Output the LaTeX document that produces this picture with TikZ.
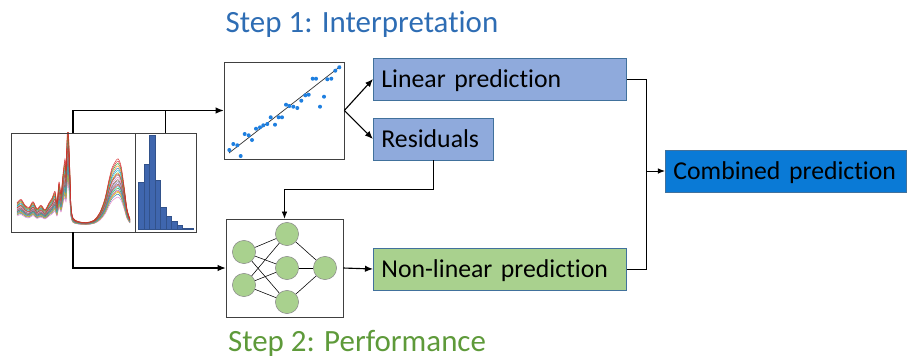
\documentclass[tikz,border=0pt]{standalone}
\usepackage{fontspec}
\setmainfont{Carlito}[Ligatures={NoCommon}]
\usetikzlibrary{arrows.meta}
\definecolor{stepblue}{HTML}{2E6DB4}
\definecolor{stepgreen}{HTML}{5E9A3A}
\definecolor{linfill}{HTML}{8FAADC}
\definecolor{nlfill}{HTML}{A9D18E}
\definecolor{combfill}{HTML}{0A7AD6}
\definecolor{boxline}{HTML}{41719C}
\definecolor{dotblue}{HTML}{1E7FE0}
\definecolor{barblue}{HTML}{3F66AE}
\definecolor{tabA}{HTML}{1F77B4}
\definecolor{tabB}{HTML}{FF7F0E}
\definecolor{tabC}{HTML}{2CA02C}
\definecolor{tabD}{HTML}{D62728}
\definecolor{tabE}{HTML}{9467BD}
\definecolor{tabF}{HTML}{8C564B}
\definecolor{tabG}{HTML}{E377C2}
\definecolor{tabH}{HTML}{7F7F7F}
\definecolor{tabI}{HTML}{BCBD22}
\definecolor{tabJ}{HTML}{17BECF}
\begin{document}
\begin{tikzpicture}[x=0.025cm,y=-0.025cm,
  inset/.style={draw=black!75,fill=white,inner sep=0pt},
  predbox/.style={draw=boxline,line width=0.6pt,inner xsep=0.2cm,inner ysep=0pt,align=left,
    font=\fontsize{18.3}{22}\selectfont,minimum height=1.05cm,text height=11.8pt,text depth=0pt},
  steptitle/.style={font=\fontsize{22}{26}\selectfont,anchor=base},
  neuron/.style={circle,draw=black!45,fill=nlfill,minimum size=0.58cm,inner sep=0pt},
  feed/.style={thick,-{Latex[length=2mm,width=1.6mm]}},
  link/.style={semithick,-{Latex[length=1.8mm,width=1.4mm]}}]
\useasboundingbox (0,0) rectangle (909,358);

% titles
\node[steptitle,text=stepblue] (title1) at (362,32) {Step 1: Interpretation};
\node[steptitle,text=stepgreen] (title2) at (357,351) {Step 2: Performance};

% input data: spectra and histogram
\node[inset,minimum width=3.1cm,minimum height=2.475cm] (spec) at (73,182.5) {};
\node[inset,minimum width=1.525cm,minimum height=2.475cm] (hist) at (165.5,182.5) {};
\begin{scope}
  \clip (spec.south west) rectangle (spec.north east);
  \begin{scope}[shift={(0,226)}]
    \foreach \s/\c in {0.55/tabA,0.6/tabB,0.65/tabC,0.7/tabD,0.75/tabE,0.8/tabF,0.84/tabG,
      0.88/tabH,0.92/tabI,0.96/tabJ,1.0/tabA,1.04/tabB,1.08/tabC,1.12/tabD,0.62/tabE,0.72/tabF,
      0.5/tabG,0.58/tabI,0.68/tabJ,0.78/tabH,0.9/tabD,1.16/tabD}
      \draw[\c,line width=0.3pt,yscale=\s] plot[smooth,tension=0.5] coordinates {
        (17,-20) (21,-23) (25,-18) (29,-16) (33,-21) (37,-15) (41,-18) (45,-14) (49,-20)
        (52,-24) (55,-30) (57,-20) (59,-38) (61,-28) (63,-45) (65,-58) (66,-48) (67,-75)
        (68,-88) (69,-70) (70,-45) (71,-18) (73,-7) (78,-4) (86,-3) (94,-5) (100,-12)
        (105,-24) (109,-40) (112,-50) (115,-55) (118,-58) (121,-52) (124,-35) (127,-15) (130,-6)};
  \end{scope}
\end{scope}
\foreach \xa/\xb/\top in {138/144/182,144/149/164,149/155/135,155/160/180,160/166/207,
  166/171/216,171/177/221,177/182/225,182/193/228}
  \draw[barblue!80!black,fill=barblue,line width=0.3pt] (\xa,229) rectangle (\xb,\top);
\node[inset,fill=none,minimum width=3.1cm,minimum height=2.475cm] at (spec) {};
\node[inset,fill=none,minimum width=1.525cm,minimum height=2.475cm] at (hist) {};

% linear model inset
\node[inset,minimum width=3cm,minimum height=2.425cm] (scatter) at (284,110.5) {};
\draw[black!80,line width=0.5pt] (229,153) -- (340.7,66);
\foreach \p in {(229.3,150),(233.3,144),(237.3,145.3),(240.7,156),(244.7,134),(248.7,135.3),
  (252,140),(256,128.7),(260,127.3),(263.3,125.3),(267.3,124),(270.7,117.3),(275,124.7),
  (278.7,117.3),(282,117.3),(286,104.7),(289.3,106),(293.3,106.7),(297.3,108),(301.3,100.7),
  (305.3,95.3),(308.7,94.7),(312.7,78.7),(316,78.7),(320,106.7),(324,96.7),(327.3,79.3),
  (331.3,78.7),(335.3,70.7),(339.3,67.3)}
  \fill[dotblue] \p circle (0.05cm);

% neural network inset
\node[inset,minimum width=2.925cm,minimum height=2.45cm] (nn) at (284.5,268) {};
\node[neuron] (i1) at (244,252) {};
\node[neuron] (i2) at (244,285) {};
\node[neuron] (h1) at (287,234) {};
\node[neuron] (h2) at (287,268) {};
\node[neuron] (h3) at (287,302) {};
\node[neuron] (o1) at (325,268) {};
\foreach \a in {i1,i2}
  \foreach \b in {h1,h2,h3}
    \draw[line width=0.4pt] (\a) -- (\b);
\foreach \b in {h1,h2,h3}
  \draw[line width=0.4pt] (\b) -- (o1);

% predictions
\node[predbox,fill=linfill,anchor=west,text width=5.925cm] (lin) at (373,79) {\mbox{Linear prediction}};
\node[predbox,fill=linfill,anchor=west,text width=2.6cm] (res) at (373,139) {\mbox{Residuals}};
\node[predbox,fill=nlfill,anchor=west,text width=5.925cm] (nonlin) at (373,269) {\mbox{Non-linear prediction}};
\node[predbox,fill=combfill,anchor=west,text width=5.625cm] (comb) at (665,171) {\mbox{Combined prediction}};
\coordinate (join) at (646,171);

% connectors
\draw[feed] (spec.north) |- (scatter.west);
\draw[thick] (hist.north) -- (hist.north |- scatter.west);
\draw[feed] (spec.south) |- (nn.west);
\draw[feed] (scatter.east) -- (lin.west);
\draw[feed] (scatter.east) -- (res.west);
\draw[link] (res.south) -- ++(0,29) -| (nn.north);
\draw[feed] (nn.east) -- (nonlin.west);
\draw[semithick] (lin.east) -| (join);
\draw[semithick] (nonlin.east) -| (join);
\draw[link] (join) -- (comb.west);
\end{tikzpicture}
\end{document}
